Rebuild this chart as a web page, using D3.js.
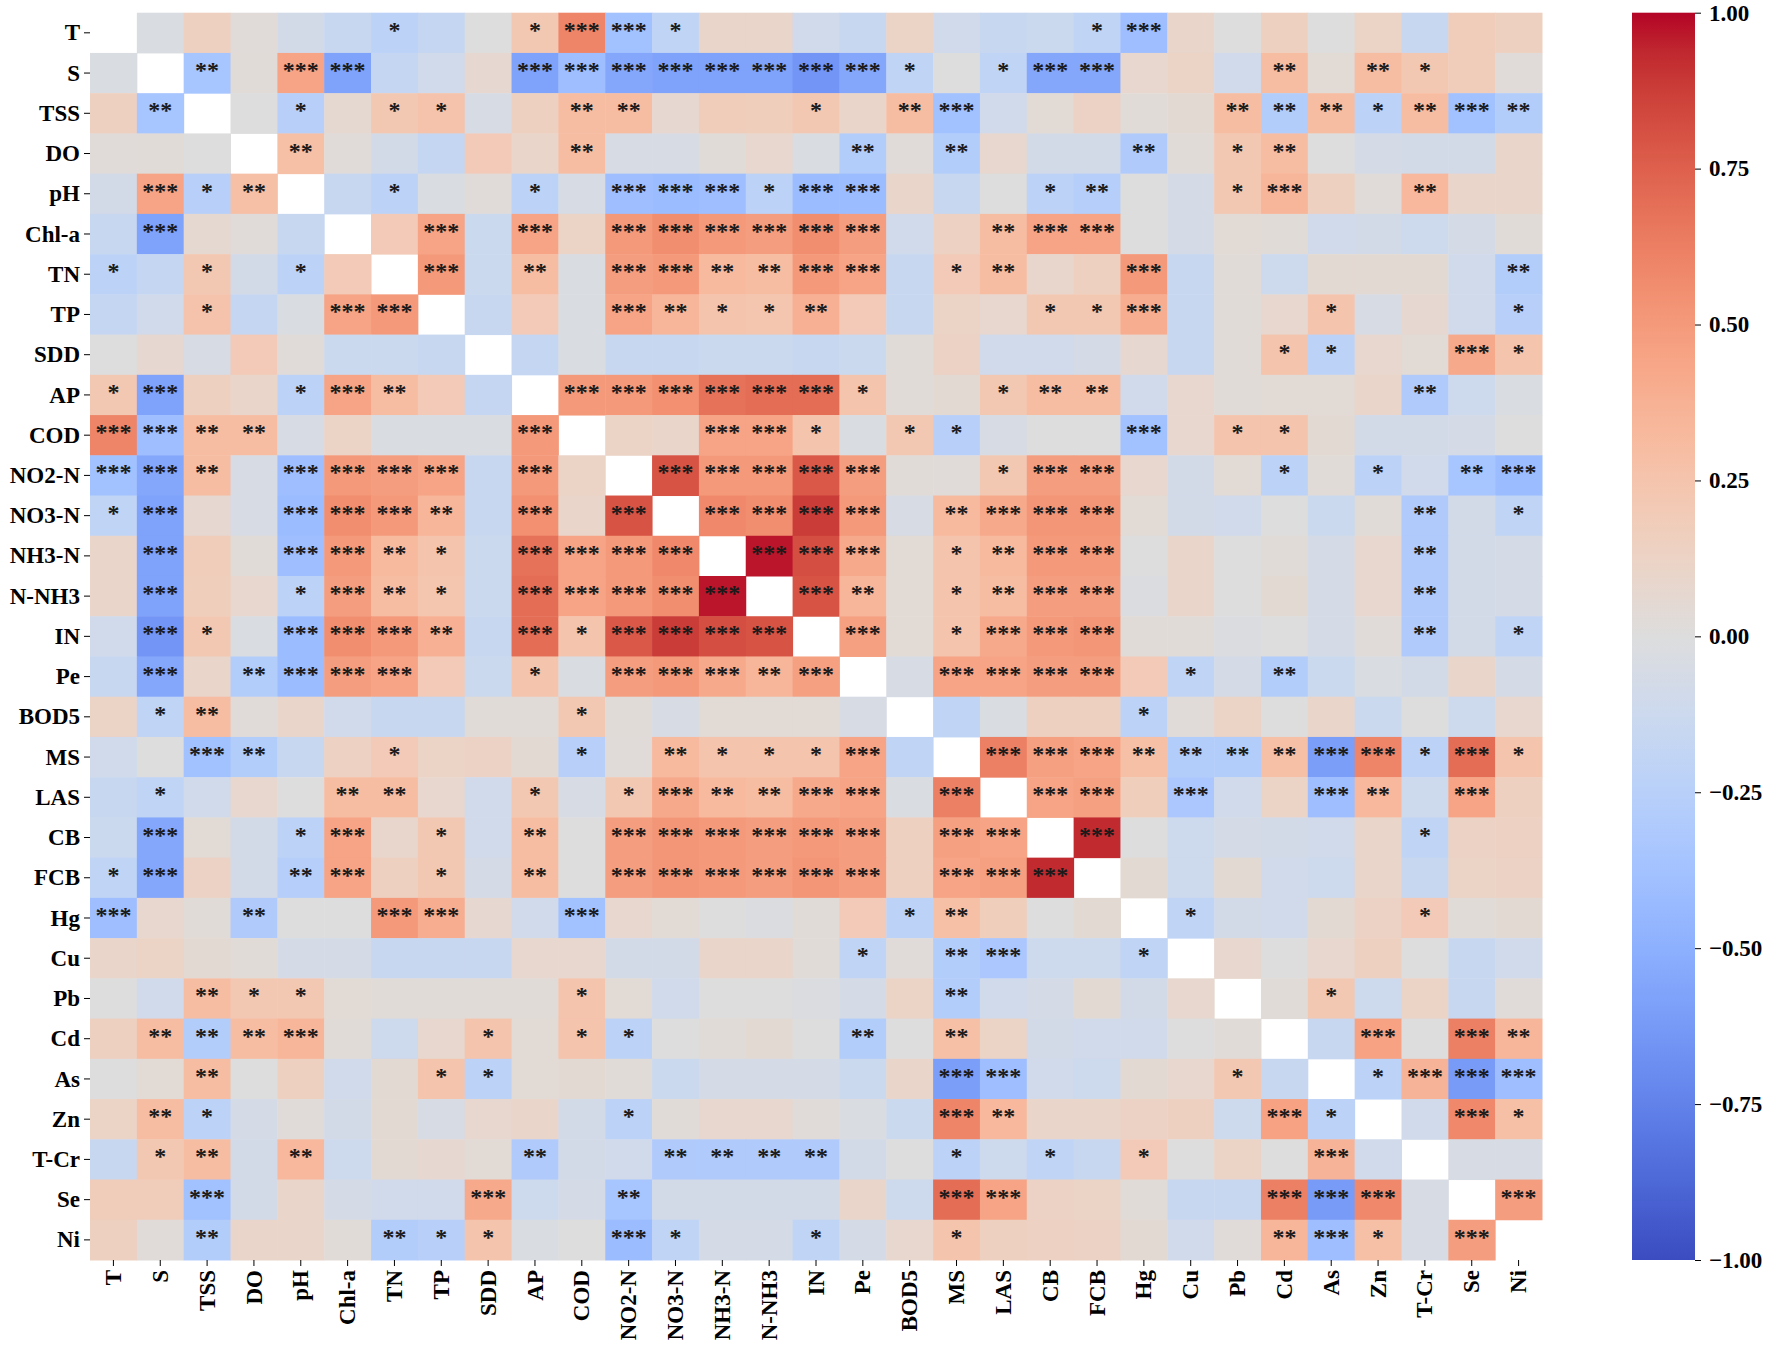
<!DOCTYPE html>
<html>
<head>
<meta charset="utf-8">
<script src="https://cdn.jsdelivr.net/npm/d3@7"></script>
<style>
  body { margin: 0; background: #ffffff; }
  text { font-family: "Liberation Serif", "Times New Roman", serif; font-weight: bold; }
</style>
</head>
<body>
<div id="chart"></div>
<script>
var variables = ["T", "S", "TSS", "DO", "pH", "Chl-a", "TN", "TP", "SDD", "AP", "COD",
  "NO2-N", "NO3-N", "NH3-N", "N-NH3", "IN", "Pe", "BOD5", "MS", "LAS", "CB", "FCB",
  "Hg", "Cu", "Pb", "Cd", "As", "Zn", "T-Cr", "Se", "Ni"];

// lower triangle of the correlation matrix, row i holds columns 0..i-1
var corrLower = [
  [],
  [-0.03],
  [0.15, -0.35],
  [0.02, 0.03, 0.0],
  [-0.08, 0.45, -0.25, 0.28],
  [-0.15, -0.58, 0.06, 0.02, -0.15],
  [-0.22, -0.17, 0.22, -0.08, -0.22, 0.2],
  [-0.17, -0.1, 0.26, -0.17, -0.03, 0.45, 0.5],
  [0.0, 0.07, -0.05, 0.2, 0.02, -0.13, -0.13, -0.15],
  [0.22, -0.58, 0.15, 0.1, -0.22, 0.45, 0.3, 0.2, -0.17],
  [0.6, -0.4, 0.3, 0.3, -0.05, 0.12, -0.03, -0.03, -0.03, 0.5],
  [-0.38, -0.55, 0.3, -0.05, -0.4, 0.5, 0.48, 0.45, -0.15, 0.5, 0.12],
  [-0.2, -0.58, 0.07, -0.05, -0.42, 0.56, 0.5, 0.35, -0.15, 0.55, 0.1, 0.8],
  [0.1, -0.58, 0.18, 0.03, -0.4, 0.5, 0.32, 0.25, -0.13, 0.68, 0.45, 0.5, 0.58],
  [0.1, -0.58, 0.17, 0.08, -0.22, 0.48, 0.3, 0.24, -0.13, 0.7, 0.45, 0.5, 0.56, 0.97],
  [-0.1, -0.65, 0.22, -0.03, -0.42, 0.56, 0.5, 0.38, -0.15, 0.7, 0.25, 0.78, 0.88, 0.82, 0.8],
  [-0.15, -0.55, 0.1, -0.28, -0.42, 0.48, 0.45, 0.2, -0.13, 0.25, -0.03, 0.48, 0.5, 0.42, 0.35, 0.47],
  [0.12, -0.2, 0.3, 0.02, 0.1, -0.1, -0.15, -0.15, 0.03, 0.03, 0.22, 0.03, -0.05, 0.04, 0.04, 0.04, -0.05],
  [-0.1, 0.0, -0.38, -0.28, -0.15, 0.14, 0.2, 0.12, 0.13, 0.05, -0.25, 0.02, 0.32, 0.25, 0.25, 0.25, 0.45, -0.2],
  [-0.15, -0.2, -0.1, 0.08, 0.0, 0.3, 0.3, 0.08, -0.1, 0.22, -0.05, 0.22, 0.42, 0.32, 0.3, 0.42, 0.45, -0.03, 0.62],
  [-0.13, -0.55, 0.04, -0.08, -0.22, 0.45, 0.09, 0.22, -0.1, 0.3, 0.0, 0.48, 0.52, 0.5, 0.48, 0.5, 0.48, 0.15, 0.47, 0.45],
  [-0.2, -0.55, 0.13, -0.08, -0.27, 0.45, 0.15, 0.22, -0.07, 0.3, 0.0, 0.48, 0.52, 0.5, 0.48, 0.52, 0.48, 0.15, 0.45, 0.47, 0.93],
  [-0.4, 0.08, 0.03, -0.3, 0.0, 0.0, 0.5, 0.4, 0.07, -0.1, -0.38, 0.08, 0.04, 0.0, -0.02, 0.03, 0.2, -0.22, 0.28, 0.17, 0.0, 0.05],
  [0.1, 0.12, 0.05, 0.03, -0.07, -0.07, -0.15, -0.15, -0.15, 0.08, 0.08, -0.08, -0.08, 0.1, 0.1, 0.03, -0.2, 0.02, -0.28, -0.33, -0.12, -0.12, -0.2],
  [0.0, -0.1, 0.3, 0.22, 0.22, 0.04, 0.03, 0.03, 0.03, 0.03, 0.25, 0.04, -0.1, 0.0, 0.0, -0.02, -0.07, 0.12, -0.28, -0.1, -0.07, 0.05, -0.08, 0.08],
  [0.15, 0.3, -0.28, 0.3, 0.35, 0.03, -0.12, 0.08, 0.25, 0.04, 0.25, -0.22, 0.0, 0.03, 0.05, 0.0, -0.28, 0.0, 0.28, 0.12, -0.08, -0.1, -0.1, 0.0, 0.03],
  [0.0, 0.04, 0.3, 0.0, 0.15, -0.1, 0.05, 0.25, -0.22, 0.04, 0.05, 0.03, -0.13, -0.06, -0.06, -0.07, -0.13, 0.1, -0.6, -0.4, -0.1, -0.12, 0.05, 0.08, 0.22, -0.15],
  [0.12, 0.3, -0.22, -0.07, 0.02, -0.08, 0.05, -0.05, 0.08, 0.1, -0.08, -0.22, 0.03, 0.08, 0.08, 0.02, -0.03, -0.13, 0.6, 0.33, 0.1, 0.1, 0.13, 0.15, -0.12, 0.46, -0.22],
  [-0.15, 0.22, 0.3, -0.08, 0.33, -0.12, 0.05, 0.07, 0.04, -0.3, -0.08, -0.1, -0.3, -0.3, -0.3, -0.3, -0.08, 0.0, -0.22, -0.12, -0.2, -0.15, 0.2, 0.0, 0.12, 0.0, 0.36, -0.1],
  [0.18, 0.18, -0.38, -0.08, 0.1, -0.07, -0.1, -0.1, 0.42, -0.12, -0.07, -0.35, -0.08, -0.08, -0.08, -0.08, 0.1, -0.12, 0.7, 0.45, 0.13, 0.12, 0.03, -0.15, -0.15, 0.62, -0.62, 0.58, -0.05],
  [0.15, 0.02, -0.28, 0.1, 0.1, 0.03, -0.28, -0.25, 0.25, -0.03, 0.0, -0.42, -0.2, -0.06, -0.06, -0.2, -0.06, 0.08, 0.25, 0.15, 0.14, 0.13, 0.05, -0.1, 0.02, 0.35, -0.4, 0.28, -0.05, 0.48]
];

// number of asterisks, same layout as corrLower
var sigLower = [
  [],
  [0],
  [0, 2],
  [0, 0, 0],
  [0, 3, 1, 2],
  [0, 3, 0, 0, 0],
  [1, 0, 1, 0, 1, 0],
  [0, 0, 1, 0, 0, 3, 3],
  [0, 0, 0, 0, 0, 0, 0, 0],
  [1, 3, 0, 0, 1, 3, 2, 0, 0],
  [3, 3, 2, 2, 0, 0, 0, 0, 0, 3],
  [3, 3, 2, 0, 3, 3, 3, 3, 0, 3, 0],
  [1, 3, 0, 0, 3, 3, 3, 2, 0, 3, 0, 3],
  [0, 3, 0, 0, 3, 3, 2, 1, 0, 3, 3, 3, 3],
  [0, 3, 0, 0, 1, 3, 2, 1, 0, 3, 3, 3, 3, 3],
  [0, 3, 1, 0, 3, 3, 3, 2, 0, 3, 1, 3, 3, 3, 3],
  [0, 3, 0, 2, 3, 3, 3, 0, 0, 1, 0, 3, 3, 3, 2, 3],
  [0, 1, 2, 0, 0, 0, 0, 0, 0, 0, 1, 0, 0, 0, 0, 0, 0],
  [0, 0, 3, 2, 0, 0, 1, 0, 0, 0, 1, 0, 2, 1, 1, 1, 3, 0],
  [0, 1, 0, 0, 0, 2, 2, 0, 0, 1, 0, 1, 3, 2, 2, 3, 3, 0, 3],
  [0, 3, 0, 0, 1, 3, 0, 1, 0, 2, 0, 3, 3, 3, 3, 3, 3, 0, 3, 3],
  [1, 3, 0, 0, 2, 3, 0, 1, 0, 2, 0, 3, 3, 3, 3, 3, 3, 0, 3, 3, 3],
  [3, 0, 0, 2, 0, 0, 3, 3, 0, 0, 3, 0, 0, 0, 0, 0, 0, 1, 2, 0, 0, 0],
  [0, 0, 0, 0, 0, 0, 0, 0, 0, 0, 0, 0, 0, 0, 0, 0, 1, 0, 2, 3, 0, 0, 1],
  [0, 0, 2, 1, 1, 0, 0, 0, 0, 0, 1, 0, 0, 0, 0, 0, 0, 0, 2, 0, 0, 0, 0, 0],
  [0, 2, 2, 2, 3, 0, 0, 0, 1, 0, 1, 1, 0, 0, 0, 0, 2, 0, 2, 0, 0, 0, 0, 0, 0],
  [0, 0, 2, 0, 0, 0, 0, 1, 1, 0, 0, 0, 0, 0, 0, 0, 0, 0, 3, 3, 0, 0, 0, 0, 1, 0],
  [0, 2, 1, 0, 0, 0, 0, 0, 0, 0, 0, 1, 0, 0, 0, 0, 0, 0, 3, 2, 0, 0, 0, 0, 0, 3, 1],
  [0, 1, 2, 0, 2, 0, 0, 0, 0, 2, 0, 0, 2, 2, 2, 2, 0, 0, 1, 0, 1, 0, 1, 0, 0, 0, 3, 0],
  [0, 0, 3, 0, 0, 0, 0, 0, 3, 0, 0, 2, 0, 0, 0, 0, 0, 0, 3, 3, 0, 0, 0, 0, 0, 3, 3, 3, 0],
  [0, 0, 2, 0, 0, 0, 2, 1, 1, 0, 0, 3, 1, 0, 0, 1, 0, 0, 1, 0, 0, 0, 0, 0, 0, 2, 3, 1, 0, 3]
];

var colorbarTicks = [-1, -0.75, -0.5, -0.25, 0, 0.25, 0.5, 0.75, 1];

// matplotlib "coolwarm", evenly spaced from -1 to 1
var coolwarmColors = [
  "rgb(59,76,192)", "rgb(68,90,204)", "rgb(77,104,215)", "rgb(87,117,225)",
  "rgb(98,130,234)", "rgb(108,142,241)", "rgb(119,154,247)", "rgb(130,165,251)",
  "rgb(141,176,254)", "rgb(152,185,255)", "rgb(163,194,255)", "rgb(174,201,253)",
  "rgb(184,208,249)", "rgb(194,213,244)", "rgb(204,217,238)", "rgb(213,219,230)",
  "rgb(221,221,221)", "rgb(229,216,209)", "rgb(236,211,197)", "rgb(241,204,185)",
  "rgb(245,196,173)", "rgb(247,187,160)", "rgb(247,177,148)", "rgb(247,166,135)",
  "rgb(244,154,123)", "rgb(241,141,111)", "rgb(236,127,99)", "rgb(229,112,88)",
  "rgb(222,96,77)", "rgb(213,80,66)", "rgb(203,62,56)", "rgb(192,40,47)",
  "rgb(180,4,38)"
];

function drawCorrHeatmap() {
  "use strict";
  var viewportWidth = 1768;
  var viewportHeight = 1350;
  var plotLeft = 90;
  var plotRight = 1542;
  var plotTop = 12.7;
  var plotBottom = 1260;
  var fontSize = 23;

  var svg = d3.select("#chart").append("svg").
    attr("width", viewportWidth).
    attr("height", viewportHeight);

  var x = d3.scaleBand().
    domain(variables).
    range([plotLeft, plotRight]);

  var y = d3.scaleBand().
    domain(variables).
    range([plotTop, plotBottom]);

  var colorDomain = coolwarmColors.map(function(c, i) {
    return -1 + 2 * i / (coolwarmColors.length - 1);
  });
  var color = d3.scaleLinear().
    domain(colorDomain).
    range(coolwarmColors).
    interpolate(d3.interpolateRgb).
    clamp(true);

  // full symmetric matrix from the lower triangle
  var cells = [];
  variables.forEach(function(rowName, i) {
    variables.forEach(function(colName, j) {
      if (i === j) {
        return;
      }
      var a = Math.max(i, j);
      var b = Math.min(i, j);
      cells.push({
        row: rowName,
        col: colName,
        value: corrLower[a][b],
        stars: sigLower[a][b]
      });
    });
  });

  svg.append("g").
    selectAll("rect").
    data(cells).
    enter().append("rect").
    attr("x", function(d) { return x(d.col); }).
    attr("y", function(d) { return y(d.row); }).
    attr("width", x.bandwidth() + 0.5).
    attr("height", y.bandwidth() + 0.5).
    style("fill", function(d) { return color(d.value); });

  svg.append("g").
    selectAll("text").
    data(cells.filter(function(d) { return d.stars > 0; })).
    enter().append("text").
    attr("x", function(d) { return x(d.col) + x.bandwidth() / 2; }).
    attr("y", function(d) { return y(d.row) + y.bandwidth() / 2 + 5; }).
    attr("text-anchor", "middle").
    style("font-size", "24px").
    style("fill", "#1a1a1a").
    text(function(d) { return "*".repeat(d.stars); });

  var yAxis = svg.append("g").
    attr("transform", "translate(" + plotLeft + ",0)").
    call(d3.axisLeft(y).tickSize(6).tickPadding(4));
  yAxis.select(".domain").remove();
  yAxis.selectAll("text").
    style("font-size", fontSize + "px").
    attr("dy", "0.33em").
    style("fill", "#000");

  var xAxis = svg.append("g").
    attr("transform", "translate(0," + plotBottom + ")").
    call(d3.axisBottom(x).tickSize(6).tickPadding(4));
  xAxis.select(".domain").remove();
  xAxis.selectAll("text").
    style("font-size", fontSize + "px").
    style("fill", "#000").
    attr("transform", "rotate(-90)").
    attr("text-anchor", "end").
    attr("x", -10).
    attr("y", 0).
    attr("dy", "0.33em");

  // colorbar
  var barLeft = 1632;
  var barWidth = 63;
  var gradient = svg.append("defs").append("linearGradient").
    attr("id", "coolwarm").
    attr("x1", "0").attr("y1", "1").
    attr("x2", "0").attr("y2", "0");
  gradient.selectAll("stop").
    data(coolwarmColors).
    enter().append("stop").
    attr("offset", function(d, i) { return i / (coolwarmColors.length - 1); }).
    attr("stop-color", function(d) { return d; });

  svg.append("rect").
    attr("x", barLeft).
    attr("y", plotTop).
    attr("width", barWidth).
    attr("height", plotBottom - plotTop).
    style("fill", "url(#coolwarm)");

  var barScale = d3.scaleLinear().
    domain([-1, 1]).
    range([plotBottom, plotTop]);

  var barAxis = svg.append("g").
    attr("transform", "translate(" + (barLeft + barWidth) + ",0)").
    call(d3.axisRight(barScale).
      tickValues(colorbarTicks).
      tickFormat(d3.format(".2f")).
      tickSize(6).
      tickPadding(8));
  barAxis.select(".domain").remove();
  barAxis.selectAll("text").
    style("font-size", fontSize + "px").
    style("fill", "#000");
}

drawCorrHeatmap();
</script>
</body>
</html>
